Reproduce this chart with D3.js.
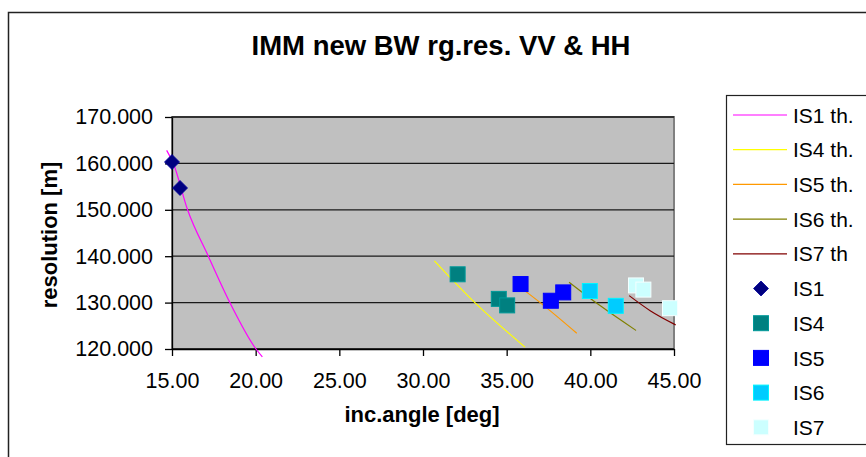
<!DOCTYPE html>
<html>
<head>
<meta charset="utf-8">
<script src="https://cdn.jsdelivr.net/npm/d3@7"></script>
<style>
  html, body { margin: 0; padding: 0; background: #fff; }
  svg { display: block; font-family: "Liberation Sans", Arial, sans-serif; }
</style>
</head>
<body>
<svg id="chart" width="866" height="457"></svg>
<script>
// ---- data ----
const titleText = "IMM new BW rg.res. VV & HH";
const xTitle = "inc.angle [deg]";
const yTitle = "resolution [m]";
const xTicks = [15, 20, 25, 30, 35, 40, 45];
const yTicks = [120, 130, 140, 150, 160, 170];

// theoretical curves
const is1thX = [14.68, 15.08, 15.93, 17.17, 18.46, 20.02, 20.40];
const is1thY = [162.8, 160.0, 150.0, 140.0, 130.0, 120.0, 118.3];
const is4thX = [30.68, 33.10, 36.10];
const is4thY = [139.0, 130.0, 120.4];
const is5thX = [35.70, 37.00, 39.19];
const is5thY = [133.6, 130.0, 123.4];
const is6thX = [38.73, 40.60, 42.73];
const is6thY = [134.4, 129.3, 124.0];
const is7thX = [42.32, 43.60, 45.10];
const is7thY = [131.5, 128.2, 125.2];

// measured points
const is1X = [15.00, 15.48];
const is1Y = [160.3, 154.7];
const is4X = [32.07, 34.53, 35.03];
const is4Y = [136.1, 130.8, 129.4];
const is5X = [35.83, 37.64, 38.38];
const is5Y = [134.0, 130.4, 132.2];
const is6X = [39.97, 41.52];
const is6Y = [132.5, 129.3];
const is7X = [42.73, 43.17, 44.76];
const is7Y = [133.7, 132.8, 128.8];

const lineSeries = [
  { name: "IS1 th.", xs: is1thX, ys: is1thY, color: "#FF00FF" },
  { name: "IS4 th.", xs: is4thX, ys: is4thY, color: "#FFFF00" },
  { name: "IS5 th.", xs: is5thX, ys: is5thY, color: "#FF9900" },
  { name: "IS6 th.", xs: is6thX, ys: is6thY, color: "#808000" },
  { name: "IS7 th",  xs: is7thX, ys: is7thY, color: "#800000" }
];
const pointSeries = [
  { name: "IS1", xs: is1X, ys: is1Y, color: "#000080", shape: "diamond" },
  { name: "IS4", xs: is4X, ys: is4Y, color: "#008080", shape: "square" },
  { name: "IS5", xs: is5X, ys: is5Y, color: "#0000FF", shape: "square" },
  { name: "IS6", xs: is6X, ys: is6Y, color: "#00CCFF", shape: "square" },
  { name: "IS7", xs: is7X, ys: is7Y, color: "#CCFFFF", shape: "square" }
];

// ---- layout ----
const svg = d3.select("#chart");
const plot = { left: 172, top: 117, right: 674, bottom: 349 };

const x = d3.scaleLinear().domain([15, 45]).range([plot.left, plot.right]);
const y = d3.scaleLinear().domain([120, 170]).range([plot.bottom, plot.top]);

// chart area border
svg.append("rect")
  .attr("x", 8.5).attr("y", 12.5)
  .attr("width", 1000).attr("height", 1000)
  .attr("fill", "#fff").attr("stroke", "#222").attr("stroke-width", 1.5);

// title
svg.append("text")
  .attr("x", 441).attr("y", 55)
  .attr("text-anchor", "middle")
  .attr("font-size", 27.5).attr("font-weight", "bold")
  .text(titleText);

// plot area
svg.append("rect")
  .attr("x", plot.left).attr("y", plot.top)
  .attr("width", plot.right - plot.left).attr("height", plot.bottom - plot.top)
  .attr("fill", "#C0C0C0").attr("stroke", "#808080").attr("stroke-width", 2);

// gridlines
svg.append("g").selectAll("line")
  .data(yTicks)
  .join("line")
  .attr("x1", plot.left).attr("x2", plot.right)
  .attr("y1", d => y(d)).attr("y2", d => y(d))
  .attr("stroke", "#1a1a1a").attr("stroke-width", 1.3);

// axes
const yAxis = d3.axisLeft(y).tickValues(yTicks).tickFormat(d3.format(".3f"))
  .tickSize(7).tickSizeOuter(0).tickPadding(12);
const xAxis = d3.axisBottom(x).tickValues(xTicks).tickFormat(d3.format(".2f"))
  .tickSize(7).tickSizeOuter(0).tickPadding(17);

const gy = svg.append("g").attr("transform", `translate(${plot.left},0)`).call(yAxis);
const gx = svg.append("g").attr("transform", `translate(0,${plot.bottom})`).call(xAxis);
[gx, gy].forEach(g => {
  g.select(".domain").attr("stroke", "#000").attr("stroke-width", 1.3);
  g.selectAll(".tick line").attr("stroke", "#000").attr("stroke-width", 1.3);
  g.selectAll(".tick text")
    .attr("fill", "#000")
    .attr("font-size", 21.5)
    .attr("font-family", "'Liberation Sans', Arial, sans-serif");
});

// axis titles
svg.append("text")
  .attr("x", 422).attr("y", 422)
  .attr("text-anchor", "middle")
  .attr("font-size", 22).attr("font-weight", "bold")
  .text(xTitle);
svg.append("text")
  .attr("transform", "translate(57,235) rotate(-90)")
  .attr("text-anchor", "middle")
  .attr("font-size", 22).attr("font-weight", "bold")
  .text(yTitle);

// curves
const lineGen = d3.line().x(d => x(d[0])).y(d => y(d[1])).curve(d3.curveMonotoneX);
svg.append("g").selectAll("path")
  .data(lineSeries)
  .join("path")
  .attr("d", s => lineGen(s.xs.map((v, i) => [v, s.ys[i]])))
  .attr("fill", "none")
  .attr("stroke", s => s.color)
  .attr("stroke-width", 1.2);

// markers
const diamond = (r) => `M0,${-r}L${r},0L0,${r}L${-r},0Z`;
function drawMarker(g, shape, color, cx, cy) {
  const stroke = d3.color(color).brighter(0.5).formatHex();
  if (shape === "diamond") {
    g.append("path")
      .attr("transform", `translate(${cx},${cy})`)
      .attr("d", diamond(7.5))
      .attr("fill", color).attr("stroke", stroke).attr("stroke-width", 0.8);
  } else {
    g.append("rect")
      .attr("x", cx - 7.5).attr("y", cy - 7.5)
      .attr("width", 15).attr("height", 15)
      .attr("fill", color).attr("stroke", stroke).attr("stroke-width", 1);
  }
}
const gm = svg.append("g");
pointSeries.forEach(s => {
  s.xs.forEach((v, i) => drawMarker(gm, s.shape, s.color, x(v), y(s.ys[i])));
});

// legend
const legend = svg.append("g");
legend.append("rect")
  .attr("x", 726.5).attr("y", 95.5)
  .attr("width", 200).attr("height", 349)
  .attr("fill", "#fff").attr("stroke", "#222").attr("stroke-width", 1.2);
const legendItems = lineSeries.map(s => ({ kind: "line", ...s }))
  .concat(pointSeries.map(s => ({ kind: "point", ...s })));
const ly0 = 115, lstep = 34.7;
legendItems.forEach((it, i) => {
  const cy = ly0 + i * lstep;
  if (it.kind === "line") {
    legend.append("line")
      .attr("x1", 733).attr("x2", 787)
      .attr("y1", cy).attr("y2", cy)
      .attr("stroke", it.color).attr("stroke-width", 1.2);
  } else {
    drawMarker(legend, it.shape, it.color, 761, cy);
  }
  legend.append("text")
    .attr("x", 793).attr("y", cy + 7.6)
    .attr("font-size", 21)
    .text(it.name);
});
</script>
</body>
</html>
